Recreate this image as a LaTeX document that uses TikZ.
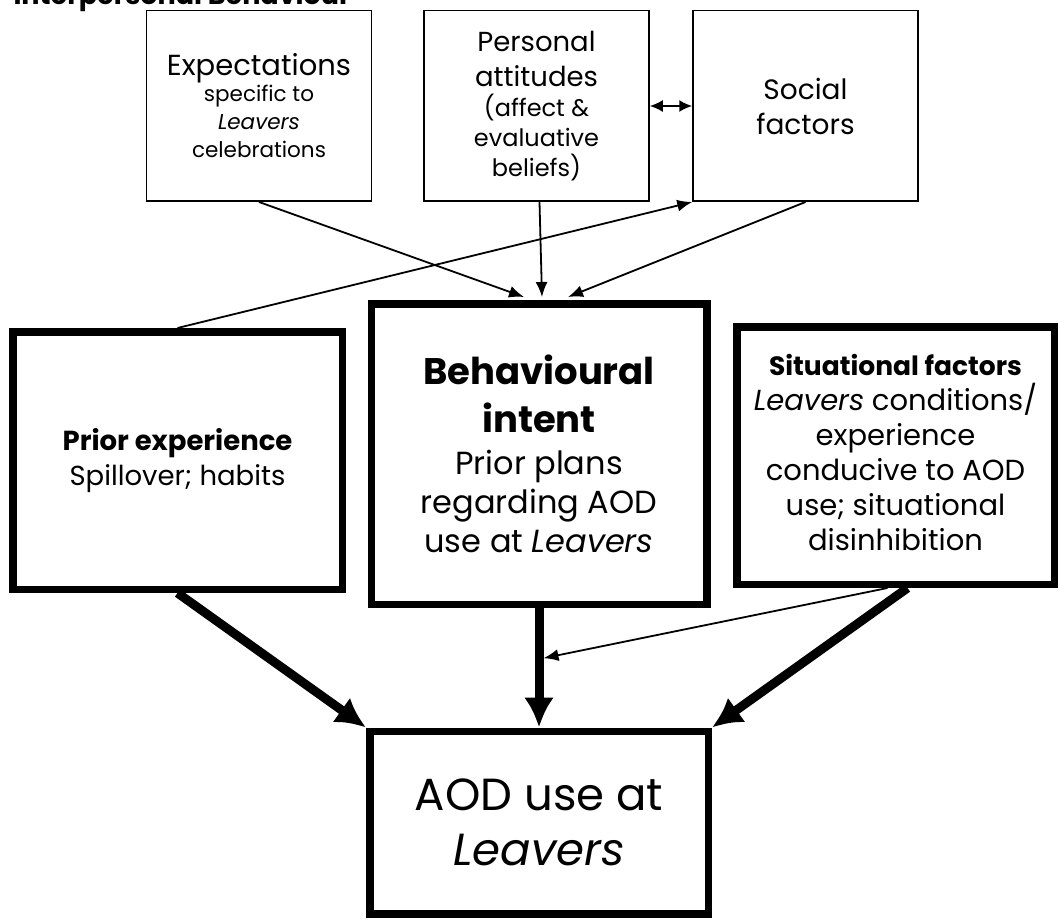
\documentclass[tikz,border=0pt]{standalone}
\usepackage{fontspec}
\setmainfont{Poppins}
\usetikzlibrary{arrows.meta,calc}
\newcommand{\fs}[2]{\fontsize{#1}{#2}\selectfont}
\begin{document}
\begin{tikzpicture}[x=1pt,y=-1pt,
  thinbox/.style={draw, line width=1.5pt, minimum width=225pt, minimum height=190.5pt, inner sep=0pt, align=center},
  thickbox/.style={draw, line width=7.5pt, inner sep=0pt, align=center},
  thinarrow/.style={line width=1.8pt, -{Latex[length=15pt,width=12pt]}},
  thickarrow/.style={line width=9pt, -{Latex[length=30pt,width=30pt]}},
  dblarrow/.style={line width=2pt, {Latex[length=13pt,width=12pt]}-{Latex[length=13pt,width=12pt]}},
]
\useasboundingbox (0,0) rectangle (1060,920);
\clip (0,0) rectangle (1060,920);

\node[anchor=base west, font=\bfseries\fs{27}{27}] (title) at (10,5) {Interpersonal Behaviour};

\node[thinbox, font=\fs{21.5}{28}] (exp) at (259,106) {\fs{29}{28}Expectations\\[-2pt]
  specific to\\ \textit{Leavers}\\ celebrations};
\node[thinbox, font=\fs{24}{30}] (pers) at (536.5,106) {\fs{27.5}{30}Personal\\[5pt] \fs{27.5}{30}attitudes\\
  (affect \&\\ evaluative\\ beliefs)};
\node[thinbox, font=\fs{28}{35}] (soc) at (805.5,106) {Social\\ factors};

\node[thickbox, font=\fs{27.5}{35}, minimum width=329.5pt, minimum height=257.5pt] (prior) at (177.5,460.5)
  {\bfseries Prior experience\\ Spillover; habits};
\node[thickbox, font=\fs{32}{39}, minimum width=335.5pt, minimum height=300.5pt] (beh) at (539,454)
  {\fs{37}{39}\bfseries Behavioural\\[9pt] \fs{37}{39}\bfseries intent\\[3pt]
   Prior plans\\ regarding AOD\\ use at \textit{Leavers}};
\node[thickbox, font=\fs{29}{35}, minimum width=317.5pt, minimum height=257.5pt] (sit) at (895.5,455.5)
  {\raisebox{6pt}{\fs{26.5}{35}\bfseries Situational factors}\\ \raisebox{6pt}{\textit{Leavers} conditions/}\\
   \raisebox{6pt}{experience}\\ \raisebox{6pt}{conducive to AOD}\\ \raisebox{6pt}{use; situational}\\ \raisebox{6pt}{disinhibition}};
\node[thickbox, font=\fs{45}{55}, minimum width=338.5pt, minimum height=182.5pt] (aod) at (539,822.5)
  {AOD use at\\ \textit{Leavers}};

% thin connectors
\draw[thinarrow] (exp.south) -- ([xshift=-15pt,yshift=3pt]beh.north);
\draw[thinarrow] ([xshift=3pt]pers.south) -- ([xshift=3pt,yshift=3pt]beh.north);
\draw[thinarrow] (soc.south) -- ([xshift=29pt,yshift=3pt]beh.north);
\draw[thinarrow] (prior.north) -- (soc.south west);
\draw[dblarrow] (pers.east) -- (soc.west);

% thick connectors
\draw[thickarrow] (prior.south) -- (aod.north west);
\draw[thickarrow] (beh.south) -- (aod.north);
\draw[thickarrow] ([xshift=12pt]sit.south) -- (aod.north east);

\coordinate (mid) at ($(beh.south)!0.42!(aod.north)+(4.5,0)$);
\draw[thinarrow] ([xshift=-8pt]sit.south) -- (mid);
\end{tikzpicture}
\end{document}
